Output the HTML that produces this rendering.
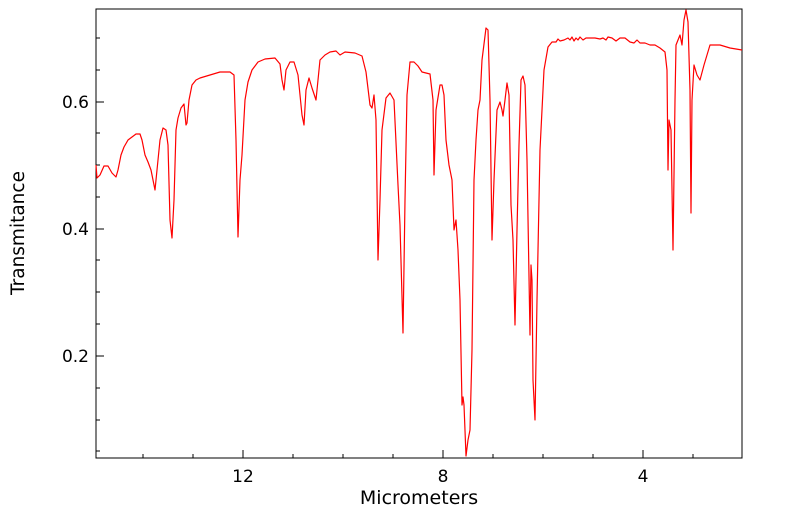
<!DOCTYPE html>
<html><head><meta charset="utf-8"><style>html,body{margin:0;padding:0;background:#fff;}svg{display:block;}</style></head>
<body>
<svg width="799" height="516" xmlns="http://www.w3.org/2000/svg" font-family="DejaVu Sans, sans-serif">
<rect x="96" y="9" width="646" height="449" fill="none" stroke="#000" stroke-width="1"/>
<g stroke="#000" stroke-width="1">
<line x1="96" y1="102" x2="104" y2="102"/><line x1="96" y1="229" x2="104" y2="229"/><line x1="96" y1="356" x2="104" y2="356"/>
<line x1="96" y1="38" x2="100" y2="38"/><line x1="96" y1="70" x2="100" y2="70"/><line x1="96" y1="133" x2="100" y2="133"/><line x1="96" y1="165" x2="100" y2="165"/><line x1="96" y1="197" x2="100" y2="197"/><line x1="96" y1="260" x2="100" y2="260"/><line x1="96" y1="292" x2="100" y2="292"/><line x1="96" y1="324" x2="100" y2="324"/><line x1="96" y1="388" x2="100" y2="388"/><line x1="96" y1="420" x2="100" y2="420"/><line x1="96" y1="451" x2="100" y2="451"/>
<line x1="243" y1="458" x2="243" y2="450"/><line x1="443" y1="458" x2="443" y2="450"/><line x1="643" y1="458" x2="643" y2="450"/>
<line x1="143" y1="458" x2="143" y2="454"/><line x1="193" y1="458" x2="193" y2="454"/><line x1="293" y1="458" x2="293" y2="454"/><line x1="343" y1="458" x2="343" y2="454"/><line x1="393" y1="458" x2="393" y2="454"/><line x1="493" y1="458" x2="493" y2="454"/><line x1="543" y1="458" x2="543" y2="454"/><line x1="593" y1="458" x2="593" y2="454"/><line x1="693" y1="458" x2="693" y2="454"/>
</g>
<g font-size="17" fill="#000">
<text x="89" y="108" text-anchor="end">0.6</text>
<text x="89" y="235" text-anchor="end">0.4</text>
<text x="89" y="362" text-anchor="end">0.2</text>
<text x="243" y="482" text-anchor="middle">12</text>
<text x="443" y="482" text-anchor="middle">8</text>
<text x="643" y="482" text-anchor="middle">4</text>
<text x="419" y="504" text-anchor="middle" font-size="19">Micrometers</text>
<text transform="translate(24,233) rotate(-90)" text-anchor="middle" font-size="18.5">Transmitance</text>
</g>
<polyline fill="none" stroke="#ff0000" stroke-width="1.2" stroke-linejoin="round" points="96,165 97,178 100,175 104,166 108,166 112,173 116,177 118,170 121,155 124,147 128,140 132,137 136,134 140,134 142,140 145,155 148,162 151,170 154,185 155,190 157,170 160,140 163,128 166,130 168,145 170,220 172,238 174,200 176,130 178,118 181,108 184,104 186,125 187,123 189,100 192,85 196,80 200,78 210,75 220,72 230,72 234,75 236,140 238,237 240,180 242,155 245,100 248,82 252,70 258,62 265,59 275,58 280,64 282,80 284,90 286,70 290,62 294,62 298,75 302,115 304,125 306,90 309,78 312,88 316,100 318,80 320,60 325,55 330,52 336,51 340,55 345,52 355,53 362,56 366,72 370,105 372,108 374,95 376,120 378,260 380,200 382,130 386,98 390,93 394,100 398,185 400,225 403,333 405,200 407,95 410,62 414,62 418,66 422,72 430,74 433,100 434,175 436,110 440,85 442,85 444,95 446,140 449,165 452,180 454,230 456,220 458,250 460,300 462,405 463,397 464,405 466,456 468,440 470,430 472,350 474,180 476,140 478,110 480,100 482,60 486,28 488,30 490,100 492,240 494,180 497,110 500,102 502,110 503,116 505,100 507,83 509,95 511,205 513,240 515,325 517,230 519,145 521,80 523,76 525,85 527,160 530,335 531,265 532,280 533,380 535,420 537,300 540,150 542,110 544,70 548,47 552,42 556,42 558,39 560,41 564,40 568,38 570,40 572,37 574,41 576,38 578,40 580,37 583,40 586,38 590,38 595,38 600,39 603,38 606,40 608,37 612,38 616,41 620,38 625,38 630,42 634,43 637,40 640,43 645,43 650,45 655,45 660,48 665,52 667,70 668,170 669,120 671,130 673,250 675,100 676,45 680,35 682,45 684,20 686,10 688,22 690,90 691,213 692,100 694,65 697,75 700,80 704,65 710,45 720,45 730,48 742,50"/>
</svg>
</body></html>
